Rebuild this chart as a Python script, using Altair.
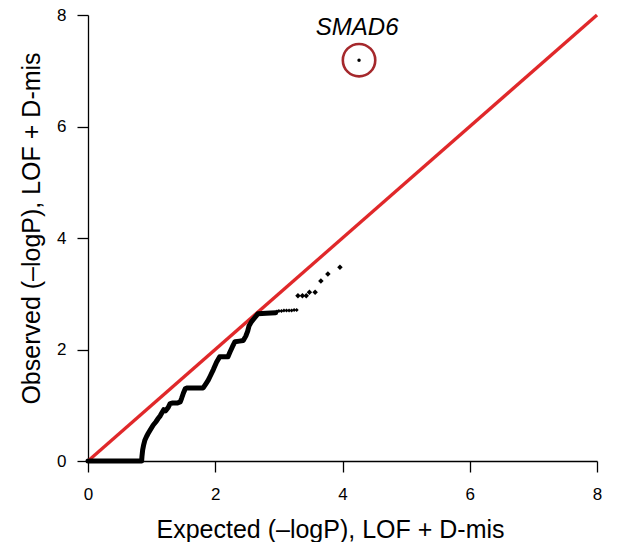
import altair as alt
import pandas as pd

# ---- data ----
# dense part of the QQ curve (expected, observed)
curve_x = [0.00, 0.843, 0.848, 0.859, 0.875, 0.895, 0.92, 0.947, 0.985, 1.026, 1.065, 1.105, 1.135,
           1.157, 1.19, 1.22, 1.26, 1.29, 1.33, 1.40, 1.45, 1.47, 1.50, 1.53, 1.56, 1.70, 1.81,
           1.85, 1.89, 1.92, 1.97, 2.02, 2.07, 2.14, 2.20, 2.23, 2.27, 2.31, 2.38, 2.44,
           2.48, 2.51, 2.53, 2.57, 2.62, 2.67, 2.80, 2.95]
curve_y = [0.00, 0.00, 0.08, 0.197, 0.29, 0.377, 0.44, 0.497, 0.57, 0.646, 0.70, 0.766, 0.81,
           0.855, 0.92, 0.90, 0.96, 1.03, 1.04, 1.04, 1.06, 1.12, 1.22, 1.30, 1.31, 1.31, 1.31,
           1.38, 1.45, 1.52, 1.64, 1.77, 1.87, 1.87, 1.87, 1.95, 2.05, 2.14, 2.15, 2.16,
           2.24, 2.33, 2.42, 2.50, 2.57, 2.64, 2.65, 2.66]

# thin run of small dots after the dense part
thin_x = [2.97, 3.00, 3.04, 3.08, 3.12, 3.16, 3.20, 3.24, 3.28]
thin_y = [2.68, 2.69, 2.69, 2.70, 2.70, 2.70, 2.70, 2.71, 2.71]

# sparse tail points
tail_x = [3.30, 3.37, 3.43, 3.48, 3.57, 3.66, 3.77, 3.96]
tail_y = [2.965, 2.965, 2.965, 3.026, 3.026, 3.229, 3.354, 3.474]

# highlighted gene
hit_gene = ["SMAD6"]
hit_x = [4.26]
hit_y = [7.19]
label_x = [4.23]
label_y = [7.64]

diag = [0, 8]
ticks = [0, 2, 4, 6, 8]

FONT = "Liberation Sans"

curve_df = pd.DataFrame({"x": curve_x, "y": curve_y, "i": list(range(len(curve_x)))})
thin_df = pd.DataFrame({"x": thin_x, "y": thin_y})
tail_df = pd.DataFrame({"x": tail_x, "y": tail_y})
hit_df = pd.DataFrame({"x": hit_x, "y": hit_y, "gene": hit_gene})
label_df = pd.DataFrame({"x": label_x, "y": label_y, "gene": hit_gene})
diag_df = pd.DataFrame({"x": diag, "y": diag})

x_scale = alt.Scale(domain=[0, 8], nice=False, zero=False)
y_scale = alt.Scale(domain=[0, 8], nice=False, zero=False)

x_axis = alt.Axis(
    values=ticks, grid=False, domainColor="black", domainWidth=1.3,
    tickColor="black", tickWidth=1.3, tickSize=11,
    labelFont=FONT, labelFontSize=17, labelColor="black", labelBaseline="alphabetic",
    labelPadding=27, labelFlush=False, labelOverlap=False,
    title="Expected (–logP), LOF + D-mis", titleFont=FONT, titleFontSize=25,
    titleFontWeight="normal", titleColor="black", titleBaseline="alphabetic",
    titleAlign="center", titleX=242, titleY=76,
)
y_axis = alt.Axis(
    values=ticks, grid=False, domainColor="black", domainWidth=1.3,
    tickColor="black", tickWidth=1.3, tickSize=11,
    labelFont=FONT, labelFontSize=17, labelColor="black", labelAngle=0,
    labelPadding=11, labelFlush=False, labelOverlap=False,
    title="Observed (–logP), LOF + D-mis", titleFont=FONT, titleFontSize=25,
    titleFontWeight="normal", titleColor="black", titleBaseline="alphabetic",
    titleAlign="center", titleAngle=-90, titleX=-49, titleY=213,
)

X = alt.X("x:Q", scale=x_scale, axis=x_axis)
Y = alt.Y("y:Q", scale=y_scale, axis=y_axis)

diag_layer = alt.Chart(diag_df).mark_line(color="#e0282a", strokeWidth=3.3).encode(x=X, y=Y)

curve_layer = alt.Chart(curve_df).mark_line(
    color="black", strokeWidth=5, strokeCap="round", strokeJoin="round"
).encode(x=X, y=Y, order="i:Q")

thin_layer = alt.Chart(thin_df).mark_point(
    shape="diamond", filled=True, size=16, color="black", opacity=1
).encode(x=X, y=Y)

tail_layer = alt.Chart(tail_df).mark_point(
    shape="diamond", filled=True, size=30, color="black", opacity=1
).encode(x=X, y=Y)

hit_dot = alt.Chart(hit_df).mark_point(
    shape="circle", filled=True, size=12, color="black", opacity=1
).encode(x=X, y=Y)

hit_ring = alt.Chart(hit_df).mark_point(
    shape="circle", filled=False, size=1052, color="#a5282c", strokeWidth=2.6, opacity=1
).encode(x=X, y=Y)

hit_label = alt.Chart(label_df).mark_text(
    font=FONT, fontSize=24, fontStyle="italic", color="black",
    align="center", baseline="alphabetic"
).encode(x=X, y=Y, text="gene:N")

chart = alt.layer(
    diag_layer, curve_layer, thin_layer, tail_layer, hit_dot, hit_ring, hit_label
).properties(
    width=509, height=446,
    autosize=alt.AutoSizeParams(type="none"),
    padding={"left": 80, "top": 7, "right": 10, "bottom": 81},
    background="white",
).configure_view(stroke=None)

chart.save("out.html", embed_options={"renderer": "svg", "actions": False})
